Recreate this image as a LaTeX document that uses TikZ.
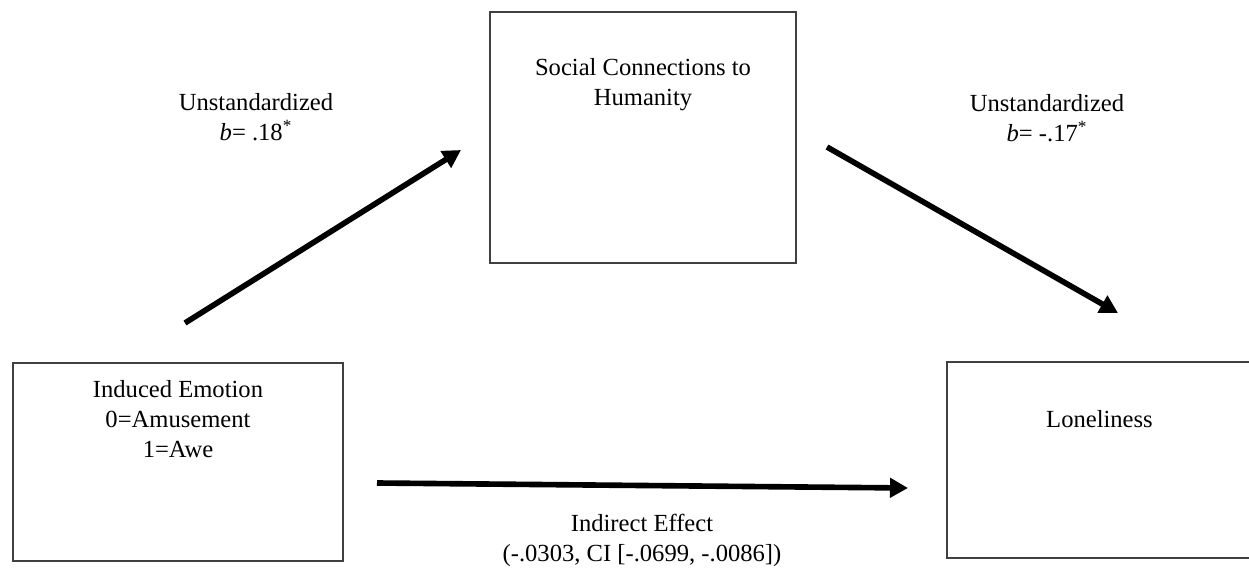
\documentclass[tikz,border=0pt]{standalone}
\usepackage{fontspec}
\setmainfont{Liberation Serif}
\usetikzlibrary{arrows.meta,positioning}

\begin{document}
\begin{tikzpicture}[x=0.02cm,y=-0.02cm,
  box/.style={draw=black!75, line width=0.8pt, inner sep=0pt},
  txt/.style={align=center, inner sep=0pt, font=\fontsize{14}{17}\selectfont},
  arr/.style={line width=3.2pt, -{Triangle[length=0.36cm,width=0.38cm]}}]
  \useasboundingbox (0,0) rectangle (1249,568);

  % boxes
  \node[box, minimum width=6.12cm, minimum height=5.02cm] (social) at (643,137.5) {};
  \node[box, minimum width=6.6cm, minimum height=3.96cm] (emotion) at (178,462) {};
  \node[box, minimum width=6.1cm, minimum height=3.92cm] (lonely) at (1099.5,460) {};

  \node[txt, below=0.94cm of social.north] (socialtxt) {Social Connections to\\Humanity};
  \node[txt, below=0.36cm of emotion.north] (emotiontxt) {Induced Emotion\\0=Amusement\\1=Awe};
  \node[txt, below=0.98cm of lonely.north] (lonelytxt) {Loneliness};

  % arrow ends
  \coordinate (a1) at (185,323);
  \coordinate (a2) at (461,150);
  \coordinate (b1) at (827,147);
  \coordinate (b2) at (1118,313);
  \coordinate (c1) at (377,483);
  \coordinate (c2) at (908,488);

  \draw[arr] (a1) -- (a2);
  \draw[arr] (b1) -- (b2);
  \draw[arr] (c1) -- (c2);

  % labels
  \node[txt, anchor=north] (pathA) at (256,93) {Unstandardized\\\textit{b}= .18\textsuperscript{*}};
  \node[txt, anchor=north] (pathB) at (1047,94) {Unstandardized\\\textit{b}= -.17\textsuperscript{*}};
  \node[txt, anchor=north] (indirect) at (642,514) {Indirect Effect\\(-.0303, CI [-.0699, -.0086])};
\end{tikzpicture}
\end{document}
